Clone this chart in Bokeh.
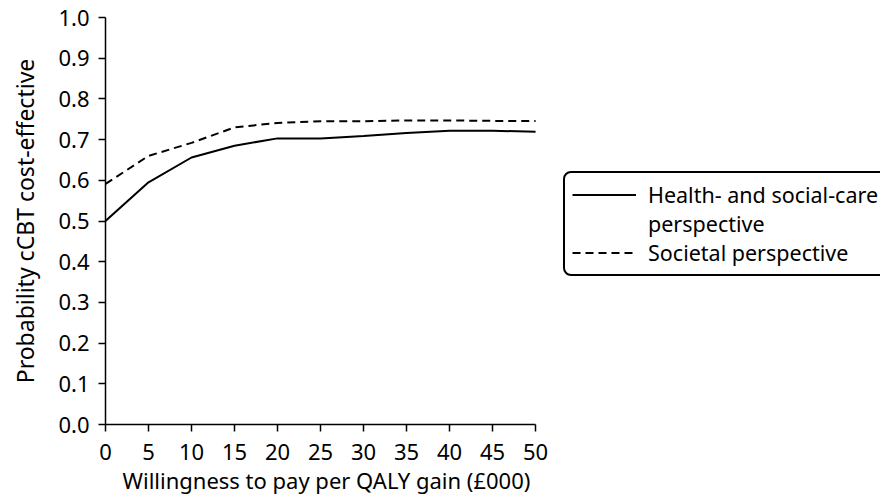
from bokeh.plotting import figure
from bokeh.models import Range1d, FixedTicker, NumeralTickFormatter, Legend, LegendItem, Title
from bokeh.embed import file_html
from bokeh.resources import INLINE

wtp = [0, 5, 10, 15, 20, 25, 30, 35, 40, 45, 50]
health_social = [0.500, 0.595, 0.656, 0.685, 0.703, 0.703, 0.709, 0.716, 0.722, 0.722, 0.719]
societal = [0.591, 0.660, 0.692, 0.730, 0.741, 0.745, 0.745, 0.747, 0.747, 0.746, 0.746]
x_ticks = [0, 5, 10, 15, 20, 25, 30, 35, 40, 45, 50]
y_ticks = [0.0, 0.1, 0.2, 0.3, 0.4, 0.5, 0.6, 0.7, 0.8, 0.9, 1.0]
x_title = "Willingness to pay per QALY gain (£000)"
y_title = "Probability cCBT cost-effective"

FONT = "Noto Sans"
FS = "22px"

p = figure(width=880, height=494, output_backend="svg", toolbar_location=None,
           x_range=Range1d(0, 90.1), y_range=Range1d(0, 1.0),
           min_border_left=105, min_border_right=0, min_border_top=17, min_border_bottom=69)
p.grid.visible = False
p.outline_line_color = None
p.background_fill_color = "white"
p.border_fill_color = "white"

r1 = p.line(wtp, health_social, line_color="black", line_width=2)
r2 = p.line(wtp, societal, line_color="black", line_width=2, line_dash="8 5")
r_blank = p.line(wtp, health_social, line_alpha=0)

for ax in (p.xaxis[0], p.yaxis[0]):
    ax.axis_line_color = "black"
    ax.axis_line_width = 1.5
    ax.major_tick_line_color = "black"
    ax.major_tick_line_width = 1.5
    ax.major_tick_in = 0
    ax.major_tick_out = 7
    ax.minor_tick_line_color = None
    ax.major_label_text_font = FONT
    ax.major_label_text_font_size = FS
    ax.major_label_text_color = "black"
    ax.axis_label_text_font = FONT
    ax.axis_label_text_font_style = "normal"
    ax.axis_label_text_color = "black"

p.xaxis[0].bounds = (0, 50)
p.xaxis[0].ticker = FixedTicker(ticks=x_ticks)
p.xaxis[0].major_label_standoff = 12

p.yaxis[0].bounds = (0, 1)
p.yaxis[0].ticker = FixedTicker(ticks=y_ticks)
p.yaxis[0].formatter = NumeralTickFormatter(format="0.0")
p.yaxis[0].axis_label = y_title
p.yaxis[0].axis_label_text_font_size = "23px"
p.yaxis[0].major_label_standoff = 9
p.yaxis[0].axis_label_standoff = 14

# x-axis title placed under the 0-50 span (as in the reference)
p.add_layout(Title(text=x_title, align="left", offset=17, standoff=0,
                   text_font=FONT, text_font_size="22px", text_font_style="normal",
                   text_color="black"), "below")

legend = Legend(items=[
    LegendItem(label="Health- and social-care", renderers=[r1]),
    LegendItem(label="perspective", renderers=[r_blank]),
    LegendItem(label="Societal perspective", renderers=[r2]),
], location=(458, 148))
legend.margin = 0
legend.padding = 7
legend.spacing = 0
legend.glyph_width = 64
legend.glyph_height = 27
legend.label_height = 27
legend.label_standoff = 12
legend.label_text_font = FONT
legend.label_text_font_size = "21.5px"
legend.label_text_color = "black"
legend.border_line_color = "black"
legend.border_line_alpha = 1
legend.border_line_width = 2
legend.background_fill_color = "white"
legend.background_fill_alpha = 1
if "border_radius" in Legend.properties():
    legend.border_radius = 8
p.add_layout(legend)

open("out.html", "w").write(file_html(p, INLINE))
